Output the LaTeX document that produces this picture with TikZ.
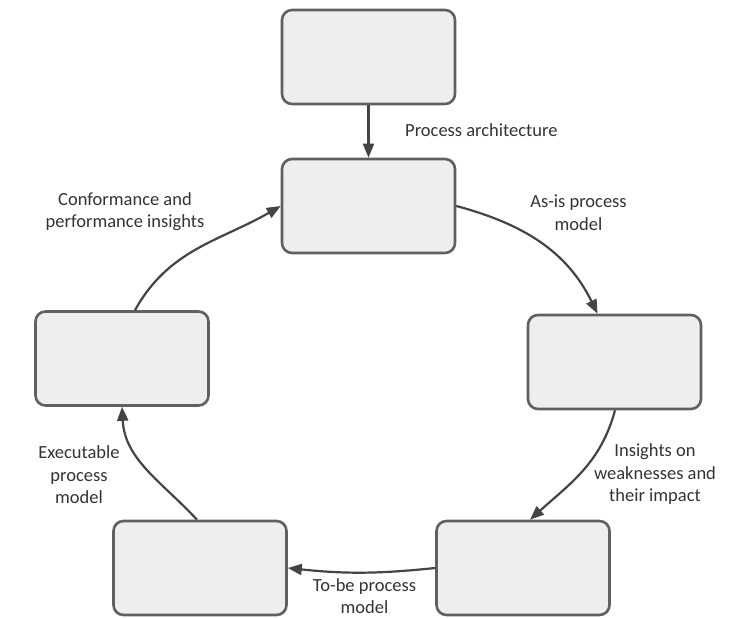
\documentclass[tikz,border=0pt]{standalone}
\usepackage{fontspec}
\setmainfont{Carlito}
\usetikzlibrary{arrows.meta}
\definecolor{boxfill}{HTML}{EEEEEE}
\definecolor{boxline}{HTML}{606060}
\definecolor{linkline}{HTML}{444444}
\definecolor{labeltext}{HTML}{333333}
\begin{document}
\begin{tikzpicture}[x=1pt,y=1pt,
  stage/.style={draw=boxline, line width=2.6pt, fill=boxfill, rounded corners=10pt,
    minimum width=173pt, minimum height=94pt, inner sep=0pt},
  link/.style={draw=linkline, line width=2.2pt, -{Triangle[length=14pt,width=11pt]}},
  caption/.style={text=labeltext, font=\fontsize{18.5}{22.5}\selectfont, align=center, inner sep=0pt}]
\useasboundingbox (0,0) rectangle (734,618);

% lifecycle stages
\node[stage] (arch) at (368.5,561) {};
\node[stage] (disc) at (368.5,412) {};
\node[stage] (anal) at (614.5,256) {};
\node[stage] (redes) at (523,50) {};
\node[stage] (impl) at (200,50) {};
\node[stage] (mon) at (122,259.5) {};

% connectors
\draw[link] (arch.south) -- (disc.north);
\draw[link] (disc.east) to[out=-15,in=116] ([xshift=-17pt]anal.north);
\draw[link] ([xshift=0.5pt]anal.south) to[out=-105,in=42] ([xshift=7pt]redes.north);
\draw[link] (redes.west) to[bend left=6] (impl.east);
\draw[link] ([xshift=-3pt]impl.north) to[out=133,in=-87] (mon.south);
\draw[link] ([xshift=13pt]mon.north) to[out=61,in=210] (disc.west);

% connector labels
\node[caption, anchor=west] (l1) at (405,488) {Process architecture};
\node[caption] (l2) at (578.5,405.5) {As-is process\\model};
\node[caption] (l3) at (655,143.5) {Insights on\\weaknesses and\\their impact};
\node[caption] (l4) at (364.5,22) {To-be process\\model};
\node[caption] (l5) at (79,143) {Executable\\process\\model};
\node[caption] (l6) at (125,406.5) {Conformance and\\performance insights};
\end{tikzpicture}
\end{document}
